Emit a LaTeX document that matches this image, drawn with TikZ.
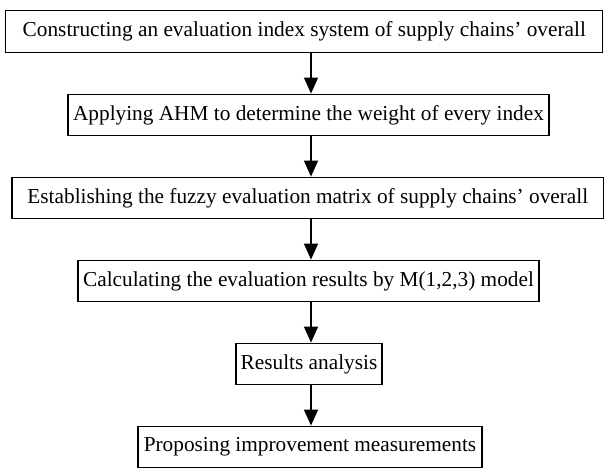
\documentclass[tikz,border=0pt]{standalone}
\usepackage{fontspec}
\setmainfont{Liberation Serif}
\usetikzlibrary{arrows.meta}
\begin{document}
\begin{tikzpicture}[x=1pt,y=-1pt,
  stepbox/.style={draw,line width=1.3pt,minimum height=41.5pt,inner sep=0pt,
    font=\fontsize{21.3}{25}\selectfont},
  arr/.style={line width=1.3pt,-{Triangle[width=14pt,length=16pt]}}]
\useasboundingbox (0,0) rectangle (604,469);
\node[stepbox,minimum width=597pt] (b1) at (304.3,31.4) {Constructing an evaluation index system of supply chains’ overall};
\node[stepbox,minimum width=481pt] (b2) at (308.5,115) {Applying AHM to determine the weight of every index};
\node[stepbox,minimum width=591.5pt] (b3) at (307.8,198) {Establishing the fuzzy evaluation matrix of supply chains’ overall};
\node[stepbox,minimum width=461pt] (b4) at (308.5,281) {Calculating the evaluation results by M(1,2,3) model};
\node[stepbox,minimum width=146pt] (b5) at (309,364) {Results analysis};
\node[stepbox,minimum width=344pt] (b6) at (310,447) {Proposing improvement measurements};
\coordinate (ax) at (311,0);
\draw[arr] (b1.south -| ax) -- (b2.north -| ax);
\draw[arr] (b2.south -| ax) -- (b3.north -| ax);
\draw[arr] (b3.south -| ax) -- (b4.north -| ax);
\draw[arr] (b4.south -| ax) -- (b5.north -| ax);
\draw[arr] (b5.south -| ax) -- (b6.north -| ax);
\end{tikzpicture}
\end{document}
